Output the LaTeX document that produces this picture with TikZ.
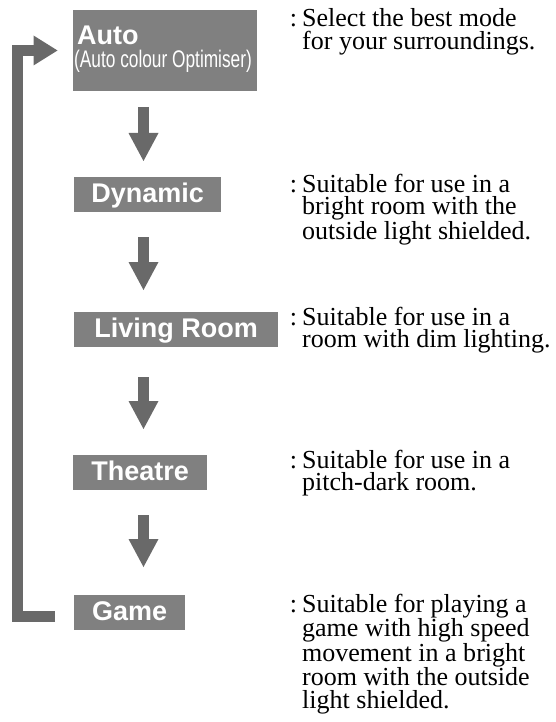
\documentclass[tikz,border=0pt]{standalone}
\usepackage{fontspec}
\setmainfont{Liberation Serif}
\newfontfamily\boxfont{Liberation Sans}
\newfontfamily\narrowfont[FakeStretch=0.72]{Liberation Sans}
\usetikzlibrary{arrows.meta}
\definecolor{boxgray}{HTML}{808080}
\definecolor{arrgray}{HTML}{696969}
\tikzset{
  modebox/.style={fill=boxgray, text=white, inner sep=0pt, anchor=north west,
    minimum height=35, text height=19, text depth=4,
    font=\boxfont\bfseries\fontsize{27}{27}\selectfont},
  downarrow/.style={draw=arrgray, line width=11,
    -{Triangle[length=28pt, width=30pt, line width=0pt, fill=arrgray]}},
  looparrow/.style={draw=arrgray, line width=10.5, line join=miter,
    -{Triangle[length=24pt, width=30pt, line width=0pt, fill=arrgray]}},
  desc/.style={inner sep=0pt, anchor=base west,
    font=\fontsize{26}{22.5}\selectfont},
}
\newcommand{\desctext}[1]{\parbox[t]{260pt}{\raggedright\leavevmode\llap{:\hspace{5pt}}#1}}
\begin{document}
\begin{tikzpicture}[x=1pt, y=-1pt]
\useasboundingbox (0,0) rectangle (555,722);
% boxes
\node[modebox, minimum width=184, minimum height=81] (auto) at (73,10) {};
\node[anchor=base west, inner sep=0pt, text=white,
  font=\boxfont\bfseries\fontsize{27}{27}\selectfont] (autot) at (77,45) {Auto};
\node[anchor=base west, inner sep=0pt, text=white,
  font=\narrowfont\fontsize{24}{24}\selectfont] (autos) at (74,68) {(Auto colour Optimiser)};
\node[modebox, minimum width=147] (dyn) at (74,177) {Dynamic};
\node[modebox, minimum width=204] (liv) at (74,312) {Living Room};
\node[modebox, minimum width=134] (the) at (73,455) {Theatre};
\node[modebox, minimum width=111] (gam) at (74,595) {Game};
% down arrows
\coordinate (a1s) at (143.5,107); \coordinate (a1e) at (143.5,161);
\coordinate (a2s) at (143.5,237); \coordinate (a2e) at (143.5,290);
\coordinate (a3s) at (143.5,377); \coordinate (a3e) at (143.5,429);
\coordinate (a4s) at (143.5,515); \coordinate (a4e) at (143.5,567);
\draw[downarrow] (a1s) -- (a1e);
\draw[downarrow] (a2s) -- (a2e);
\draw[downarrow] (a3s) -- (a3e);
\draw[downarrow] (a4s) -- (a4e);
% loop arrow
\coordinate (ls) at (55,616.5);
\coordinate (lt) at (57.5,50.5);
\draw[looparrow] (ls) -- (17.3,616.5) -- (17.3,50.5) -- (lt);
% descriptions
\node[desc] (d1) at (302,27) {\desctext{Select the best mode\\for your surroundings.}};
\node[desc] (d2) at (302,192) {\desctext{Suitable for use in a\\bright room with the\\outside light shielded.}};
\node[desc] (d3) at (302,325) {\desctext{Suitable for use in a\\room with dim lighting.}};
\node[desc] (d4) at (302,468) {\desctext{Suitable for use in a\\pitch-dark room.}};
\node[desc] (d5) at (302,612) {\desctext{Suitable for playing a\\game with high speed\\movement in a bright\\room with the outside\\light shielded.}};
\end{tikzpicture}
\end{document}
